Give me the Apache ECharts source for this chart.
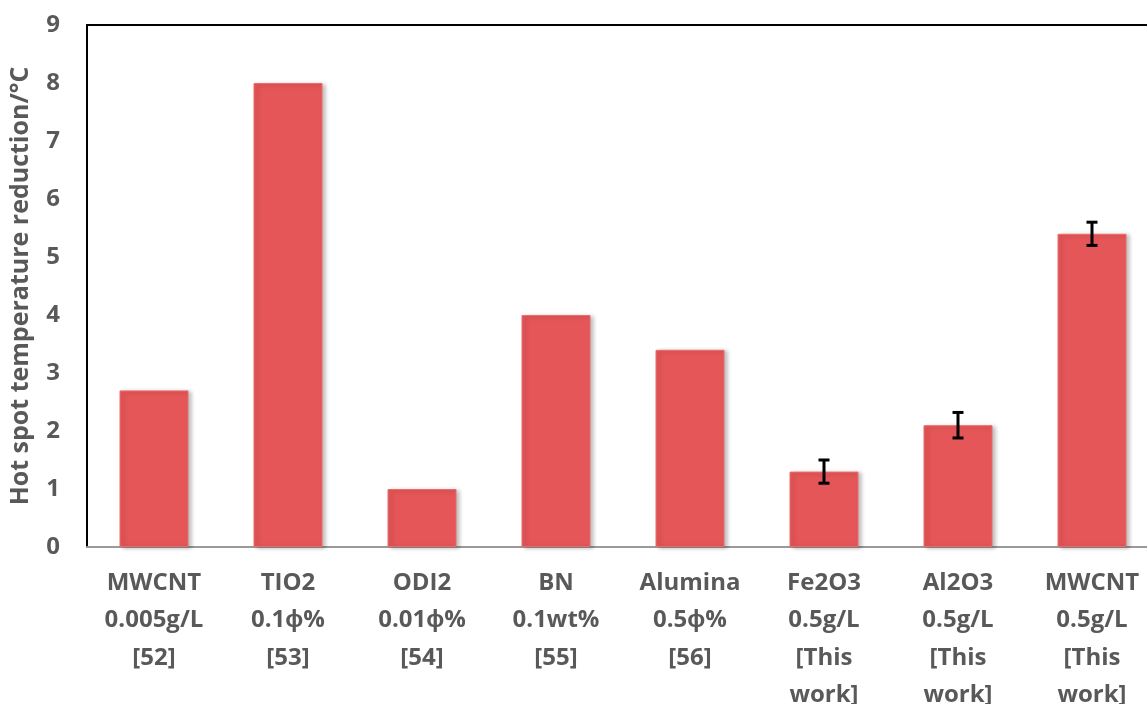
<!DOCTYPE html>
<html>
<head>
<meta charset="utf-8">
<script src="https://cdn.jsdelivr.net/npm/echarts@6/dist/echarts.min.js"></script>
<style>html,body{margin:0;padding:0;background:#fff;}#c{width:1147px;height:704px;}</style>
</head>
<body>
<div id="c"></div>
<script>
var categories = ['MWCNT\n0.005g/L\n[52]','TIO2\n0.1ϕ%\n[53]','ODI2\n0.01ϕ%\n[54]','BN\n0.1wt%\n[55]','Alumina\n0.5ϕ%\n[56]','Fe2O3\n0.5g/L\n[This\nwork]','Al2O3\n0.5g/L\n[This\nwork]','MWCNT\n0.5g/L\n[This\nwork]'];
var values = [2.7, 8.0, 1.0, 4.0, 3.4, 1.3, 2.1, 5.4];
var errors = [null, null, null, null, null, 0.2, 0.22, 0.2];
var yTicks = [0,1,2,3,4,5,6,7,8,9];

var errData = [];
for (var i = 0; i < values.length; i++) {
  if (errors[i] != null) errData.push([i, values[i] - errors[i], values[i] + errors[i]]);
}

var chart = echarts.init(document.getElementById('c'));
var font = '"Open Sans", sans-serif';
chart.setOption({
  animation: false,
  grid: { left: 87, right: -12, top: 25, bottom: 157, containLabel: false, outerBoundsMode: 'none' },
  xAxis: [{
    type: 'category', data: categories, position: 'bottom',
    axisLine: { lineStyle: { color: '#9a9a9a', width: 2 } },
    axisTick: { show: false },
    axisLabel: { color: '#595959', fontFamily: font, fontWeight: 'bold', fontSize: 24, lineHeight: 37.5, margin: 17, interval: 0 }
  }, {
    type: 'category', data: categories, position: 'top',
    axisLine: { lineStyle: { color: '#000', width: 2 } },
    axisTick: { show: false }, axisLabel: { show: false }
  }],
  yAxis: {
    type: 'value', min: 0, max: 9, interval: 1,
    name: 'Hot spot temperature reduction/°C', nameLocation: 'middle', nameGap: 54, nameRotate: 90,
    nameTextStyle: { color: '#595959', fontFamily: font, fontWeight: 'bold', fontSize: 25 },
    axisLine: { show: true, lineStyle: { color: '#000', width: 2 } },
    axisTick: { show: false },
    splitLine: { show: false },
    axisLabel: { color: '#595959', fontFamily: font, fontWeight: 'bold', fontSize: 24, margin: 27,
      formatter: function (v) { return yTicks.indexOf(v) >= 0 ? String(v) : ''; } }
  },
  series: [{
    type: 'bar', data: values, barWidth: 69,
    itemStyle: { color: '#E55658', borderColor: '#F06A6B', borderWidth: 1,
      shadowColor: 'rgba(0,0,0,0.25)', shadowBlur: 4, shadowOffsetX: 3, shadowOffsetY: 1 }
  }, {
    type: 'custom', data: errData, z: 10,
    renderItem: function (params, api) {
      var x = api.value(0);
      var lo = api.coord([x, api.value(1)]);
      var hi = api.coord([x, api.value(2)]);
      var hw = 5.5;
      var st = { stroke: '#000', lineWidth: 3 };
      return { type: 'group', children: [
        { type: 'line', shape: { x1: lo[0], y1: lo[1], x2: hi[0], y2: hi[1] }, style: st },
        { type: 'line', shape: { x1: lo[0]-hw, y1: lo[1], x2: lo[0]+hw, y2: lo[1] }, style: st },
        { type: 'line', shape: { x1: hi[0]-hw, y1: hi[1], x2: hi[0]+hw, y2: hi[1] }, style: st }
      ]};
    },
    encode: { x: 0, y: [1, 2] }
  }]
});
</script>
</body>
</html>
